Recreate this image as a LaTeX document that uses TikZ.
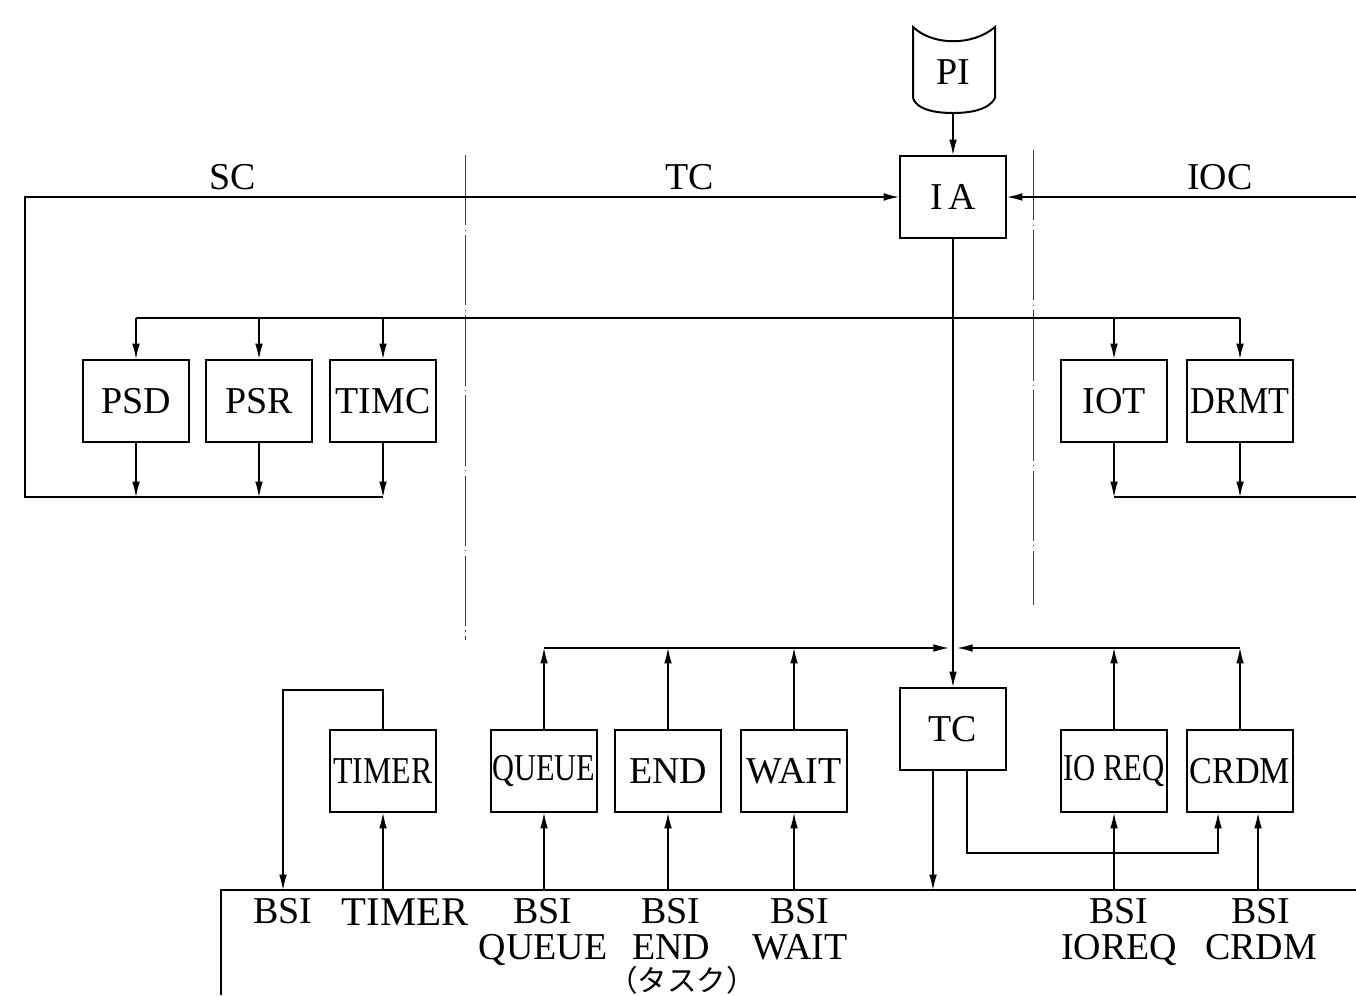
\documentclass[tikz,border=0pt]{standalone}
\usepackage{fontspec}
\setmainfont{Liberation Serif}
\newfontfamily\cjk{Noto Sans CJK JP}
\usetikzlibrary{arrows.meta, positioning}

\begin{document}
\begin{tikzpicture}[
    x=0.25mm, y=-0.25mm,
    box/.style={rectangle, draw, line width=1.4pt, minimum width=26.5mm, minimum height=20.5mm, inner sep=0pt, font=\fontsize{27}{30}\selectfont},
    lbl/.style={inner sep=0pt, font=\fontsize{27}{25.5}\selectfont, align=center},
    arr/.style={-{Latex[length=11pt, width=5.5pt]}, line width=0.9pt},
    ln/.style={line width=0.9pt},
    sep/.style={line width=0.6pt, black!75, dash pattern=on 50pt off 3pt on 1pt off 3pt}
]
\useasboundingbox (0,0) rectangle (1356,995);

% input and interrupt analysis
\node[lbl] (pi) at (953,72) {PI};
\draw[line width=1.4pt] (913,27) .. controls (933,46) and (973,46) .. (995,27) -- (995,98)
    .. controls (990,108) and (975,113) .. (953,113) .. controls (931,113) and (916,108) .. (913,98) -- cycle;
\coordinate (pib) at (953,113);
\node[box] (ia) at (953,197) {I\kern4pt A};

\node[lbl, anchor=base] (sc) at (233,190) {SC};
\node[lbl, anchor=base] (tcl) at (690,190) {TC};
\node[lbl, anchor=base] (ioc) at (1220,190) {IOC};

\draw[sep] (465,155) -- (465,640);
\draw[sep] (1033,150) -- (1033,605);

% upper row
\node[box] (psd) at (136,401) {PSD};
\node[box] (psr) at (259,401) {PSR};
\node[box] (timc) at (383,401) {TIMC};
\node[box] (iot) at (1114,401) {IOT};
\node[box] (drmt) at (1240,401) {\scalebox{.9}[1]{DRMT}};

% lower row
\node[box] (tc) at (953,729) {TC};
\node[box] (timer) at (383,771) {\scalebox{.84}[1]{TIMER}};
\node[box] (queue) at (544,771) {\scalebox{.8}[1]{QUEUE}};
\node[box] (tend) at (668,771) {END};
\node[box] (wait) at (794,771) {WAIT};
\node[box] (ioreq) at (1114,771) {\scalebox{.81}[1]{IO REQ}};
\node[box] (crdm) at (1240,771) {\scalebox{.9}[1]{CRDM}};

\coordinate (busA) at (0,318);
\coordinate (busB) at (0,648);
\coordinate (scL) at (25,497);
\coordinate (iocR) at (1356,497);
\coordinate (iocT) at (1356,197);
\coordinate (tsk) at (0,890);
\coordinate (tskL) at (221,995);
\coordinate (tskR) at (1356,890);
\coordinate (tloop) at (283,690);
\coordinate (tcloop) at (0,853);

\draw[arr] (pib) -- (ia);
\draw[arr] (ia) -- (tc);
\draw[arr] (timc.south |- scL) -- (scL) |- (ia.west);
\draw[arr] (iocT) -- (ia.east);
\draw[ln] (iot.south |- iocR) -- (iocR);

\draw[ln] (psd.north |- busA) -- (drmt.north |- busA);
\foreach \b in {psd, psr, timc, iot, drmt} \draw[arr] (\b.north |- busA) -- (\b.north);
\foreach \b in {psd, psr, timc} \draw[arr] (\b.south) -- (\b.south |- scL);
\foreach \b in {iot, drmt} \draw[arr] (\b.south) -- (\b.south |- iocR);

\foreach \b in {queue, tend, wait, ioreq, crdm} \draw[arr] (\b.north) -- (\b.north |- busB);
\draw[arr, shorten >=3pt] (queue.north |- busB) -- (tc.north |- busB);
\draw[arr, shorten >=3pt] (crdm.north |- busB) -- (tc.north |- busB);

% task area
\draw[line width=1.4pt] (tskL) |- (tskR);
\draw[arr] (timer.north) |- (tloop) -- (tloop |- tsk);
\foreach \b in {timer, queue, tend, wait, ioreq} \draw[arr] (\b.south |- tsk) -- (\b.south);
\draw[arr] ([xshift=4.5mm]crdm.south |- tsk) -- ([xshift=4.5mm]crdm.south);
\draw[arr] ([xshift=-5mm]tc.south) -- ([xshift=-5mm]tc.south |- tsk);
\draw[arr] ([xshift=3.5mm]tc.south) |- ([xshift=-5.5mm]crdm.south |- tcloop) -- ([xshift=-5.5mm]crdm.south);

\node[lbl, anchor=north] (lbsi) at (283,898) {BSI};
\node[lbl, anchor=north, font=\fontsize{29}{30}\selectfont] (ltimer) at (405,899) {TIMER};
\node[lbl, anchor=north] (lqueue) at (543,898) {BSI\\QUEUE};
\node[lbl, anchor=north] (lend) at (671,898) {BSI\\END};
\node[lbl, anchor=north] (lwait) at (800,898) {BSI\\WAIT};
\node[lbl, anchor=north] (lioreq) at (1119,898) {BSI\\IOREQ};
\node[lbl, anchor=north] (lcrdm) at (1261,898) {BSI\\CRDM};
\node[inner sep=0pt, font=\cjk\fontsize{21}{21}\selectfont] (task) at (682,980) {（タスク）};
\end{tikzpicture}
\end{document}
